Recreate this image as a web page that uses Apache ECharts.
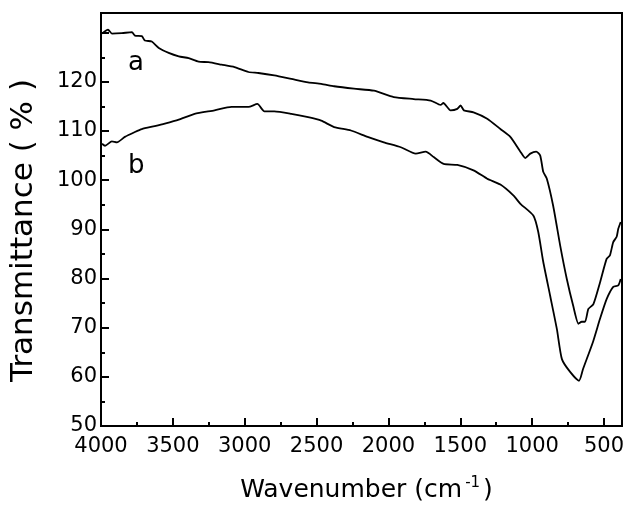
<!DOCTYPE html>
<html>
<head>
<meta charset="utf-8">
<script src="https://cdn.jsdelivr.net/npm/echarts@6/dist/echarts.min.js"></script>
<style>
  html, body { margin: 0; padding: 0; background: #fff; }
  #main { width: 628px; height: 508px; }
</style>
</head>
<body>
<div id="main"></div>
<script>
// spectrum a
const waveA = [3993, 3951, 3924, 3854, 3785, 3764, 3716, 3695, 3647, 3598, 3529, 3459, 3390, 3321, 3252, 3161, 3071, 2974, 2905, 2794, 2676, 2559, 2468, 2378, 2240, 2101, 1963, 1824, 1706, 1637, 1618, 1568, 1521, 1498, 1475, 1408, 1313, 1221, 1152, 1082, 1048, 1013, 972, 944, 923, 898, 854, 805, 759, 715, 678, 655, 632, 609, 574, 528, 482, 459, 436, 412, 401, 384]
const transA = [129.8, 130.6, 129.8, 129.9, 130.1, 129.4, 129.3, 128.4, 128.2, 126.9, 125.9, 125.2, 124.8, 124.1, 124.0, 123.5, 123.0, 122.0, 121.8, 121.3, 120.6, 119.9, 119.6, 119.1, 118.6, 118.2, 116.9, 116.5, 116.2, 115.3, 115.7, 114.2, 114.5, 115.2, 114.2, 113.8, 112.5, 110.4, 108.8, 105.8, 104.5, 105.4, 105.8, 105.0, 101.7, 100.3, 94.8, 86.7, 79.9, 74.5, 70.8, 71.2, 71.2, 73.8, 74.8, 79.2, 84.0, 84.7, 87.4, 88.5, 90.1, 91.5]
// spectrum b
const waveB = [3993, 3972, 3924, 3889, 3834, 3764, 3716, 3626, 3556, 3459, 3349, 3210, 3092, 2974, 2912, 2863, 2794, 2676, 2559, 2468, 2378, 2261, 2145, 2032, 1914, 1810, 1741, 1685, 1616, 1521, 1408, 1313, 1221, 1131, 1082, 992, 958, 923, 875, 828, 793, 736, 674, 646, 577, 528, 482, 436, 401, 384]
const transB = [107.4, 107.0, 107.9, 107.7, 108.8, 109.8, 110.4, 111.0, 111.5, 112.3, 113.5, 114.2, 114.9, 114.9, 115.5, 114.0, 114.0, 113.5, 112.8, 112.1, 110.8, 110.1, 108.8, 107.7, 106.7, 105.4, 105.8, 104.7, 103.3, 103.1, 102.0, 100.3, 99.1, 96.9, 95.2, 92.8, 89.5, 83.4, 76.5, 69.7, 63.6, 61.0, 59.2, 61.6, 67.1, 71.8, 75.8, 78.3, 78.6, 79.9]

const xMajor = [500, 1000, 1500, 2000, 2500, 3000, 3500, 4000]
const xMinor = [750, 1250, 1750, 2250, 2750, 3250, 3750]
const yLabels = [50, 60, 70, 80, 90, 100, 110, 120]

function pairs(xs, ys) {
  return xs.map((x, i) => [x, ys[i]])
}

const font = 'DejaVu Sans'
const chart = echarts.init(document.getElementById('main'), null, { renderer: 'canvas' })

const option = {
  animation: false,
  grid: {
    left: 98, top: 13, right: 6, bottom: 81,
    show: true, borderColor: '#000', borderWidth: 2, backgroundColor: 'transparent'
  },
  xAxis: [
    {
      type: 'value', min: 375, max: 4000, inverse: true,
      name: 'Wavenumber (cm{sup|-1})',
      nameLocation: 'middle', nameGap: 50,
      nameTextStyle: {
        fontFamily: font, fontSize: 25, color: '#000', padding: [0, 0, 0, 10],
        rich: { sup: { fontFamily: font, fontSize: 15, color: '#000', verticalAlign: 'top', padding: [0, 3, 14, 3] } }
      },
      axisLine: { lineStyle: { color: '#000', width: 2 } },
      axisTick: { inside: true, length: 8, lineStyle: { color: '#000', width: 2 }, customValues: xMajor },
      axisLabel: { customValues: xMajor, fontFamily: font, fontSize: 21, color: '#000', margin: 10, formatter: v => String(v) },
      splitLine: { show: false }
    },
    {
      type: 'value', min: 375, max: 4000, inverse: true, position: 'bottom',
      axisLine: { show: false },
      axisTick: { inside: true, length: 4, lineStyle: { color: '#000', width: 2 }, customValues: xMinor },
      axisLabel: { show: false },
      splitLine: { show: false }
    }
  ],
  yAxis: {
    type: 'value', min: 50, max: 134, interval: 10,
    name: 'Transmittance ( % )',
    nameLocation: 'middle', nameGap: 62,
    nameTextStyle: { fontFamily: font, fontSize: 31, color: '#000', padding: [0, 22, 0, 0] },
    axisLine: { lineStyle: { color: '#000', width: 2 } },
    axisTick: { inside: true, length: 8, lineStyle: { color: '#000', width: 2 } },
    minorTick: { show: true, splitNumber: 2, length: 4, lineStyle: { color: '#000', width: 2 } },
    axisLabel: {
      fontFamily: font, fontSize: 21, color: '#000', margin: 4,
      formatter: v => yLabels.indexOf(v) >= 0 ? String(v) : ''
    },
    splitLine: { show: false }
  },
  graphic: [
    { type: 'text', left: 128, top: 50, style: { text: 'a', font: '26px "DejaVu Sans"', fill: '#000' } },
    { type: 'text', left: 128, top: 153, style: { text: 'b', font: '26px "DejaVu Sans"', fill: '#000' } }
  ],
  series: [
    {
      name: 'a', type: 'line', data: pairs(waveA, transA),
      showSymbol: false, smooth: 0.2,
      lineStyle: { color: '#000', width: 1.8 }
    },
    {
      name: 'b', type: 'line', data: pairs(waveB, transB),
      showSymbol: false, smooth: 0.2,
      lineStyle: { color: '#000', width: 1.8 }
    }
  ]
}

chart.setOption(option)
</script>
</body>
</html>
